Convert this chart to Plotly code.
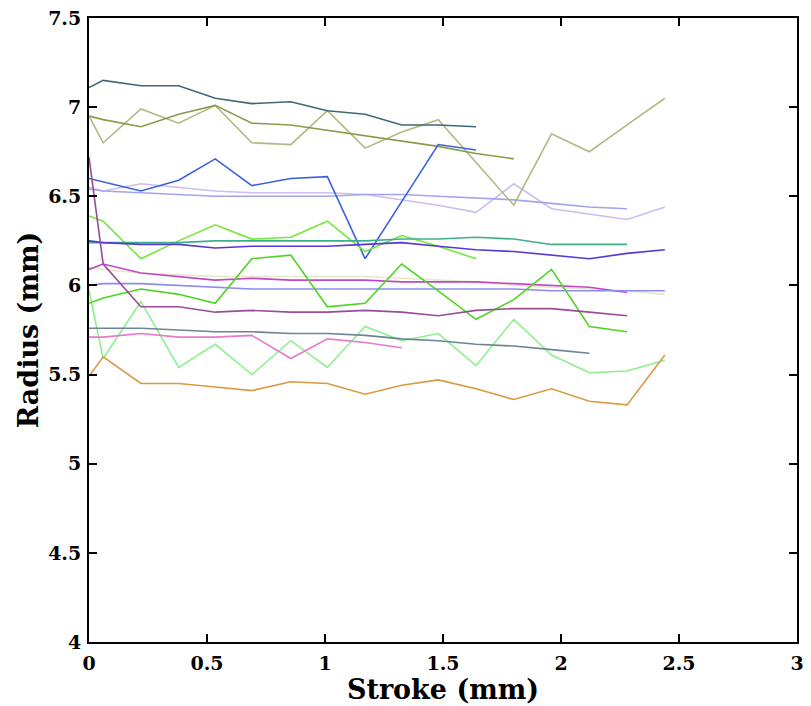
import plotly.graph_objects as go

# Stroke positions (mm) at which the radius was sampled
stroke = [0.0, 0.06, 0.22, 0.38, 0.535, 0.69, 0.855, 1.01, 1.17, 1.325,
          1.48, 1.64, 1.80, 1.96, 2.12, 2.28, 2.44]

# Radius profiles (mm), one list per specimen
r_slate_teal = [7.11, 7.15, 7.12, 7.12, 7.05, 7.02, 7.03, 6.98, 6.96, 6.90, 6.90, 6.89]
r_olive = [6.95, 6.93, 6.89, 6.96, 7.01, 6.91, 6.90, 6.87, 6.84, 6.81, 6.78, 6.74, 6.71]
r_khaki = [6.95, 6.80, 6.99, 6.91, 7.01, 6.80, 6.79, 6.98, 6.77, 6.86, 6.93, 6.69, 6.45,
           6.85, 6.75, 6.90, 7.05]
r_blue = [6.60, 6.58, 6.53, 6.59, 6.71, 6.56, 6.60, 6.61, 6.15, 6.47, 6.79, 6.76]
r_lavender = [6.55, 6.53, 6.57, 6.55, 6.53, 6.52, 6.52, 6.52, 6.51, 6.48, 6.45, 6.41, 6.57,
              6.43, 6.40, 6.37, 6.44]
r_periwinkle = [6.54, 6.53, 6.52, 6.51, 6.50, 6.50, 6.50, 6.50, 6.51, 6.51, 6.50, 6.49, 6.48,
                6.46, 6.44, 6.43]
r_lime = [6.39, 6.36, 6.15, 6.25, 6.34, 6.26, 6.27, 6.36, 6.19, 6.28, 6.22, 6.15]
r_teal = [6.24, 6.24, 6.24, 6.24, 6.25, 6.25, 6.25, 6.25, 6.25, 6.26, 6.26, 6.27, 6.26,
          6.23, 6.23, 6.23]
r_indigo = [6.25, 6.24, 6.23, 6.23, 6.21, 6.22, 6.22, 6.22, 6.23, 6.24, 6.22, 6.20, 6.19,
            6.17, 6.15, 6.18, 6.20]
r_magenta = [6.09, 6.12, 6.07, 6.05, 6.03, 6.04, 6.03, 6.03, 6.03, 6.02, 6.02, 6.02, 6.01,
             6.00, 5.99, 5.96]
r_beige = [6.10, 6.09, 6.07, 6.06, 6.05, 6.05, 6.05, 6.05, 6.05, 6.04, 6.03, 6.02, 6.00,
           5.99, 5.98, 5.97, 5.95]
r_light_blue = [6.00, 6.01, 6.01, 6.00, 5.99, 5.98, 5.98, 5.98, 5.98, 5.98, 5.98, 5.98, 5.98,
                5.97, 5.97, 5.97, 5.97]
r_green = [5.90, 5.93, 5.98, 5.95, 5.90, 6.15, 6.17, 5.88, 5.90, 6.12, 5.97, 5.81, 5.92,
           6.09, 5.77, 5.74]
r_plum = [6.72, 6.12, 5.88, 5.88, 5.85, 5.86, 5.85, 5.85, 5.86, 5.85, 5.83, 5.86, 5.87,
          5.87, 5.85, 5.83]
r_slate = [5.76, 5.76, 5.76, 5.75, 5.74, 5.74, 5.73, 5.73, 5.72, 5.70, 5.69, 5.67, 5.66,
           5.64, 5.62]
r_pink = [5.71, 5.71, 5.73, 5.71, 5.71, 5.72, 5.59, 5.70, 5.68, 5.65]
r_mint = [5.97, 5.59, 5.91, 5.54, 5.67, 5.50, 5.69, 5.54, 5.77, 5.69, 5.73, 5.55, 5.81,
          5.61, 5.51, 5.52, 5.58]
r_orange = [5.49, 5.60, 5.45, 5.45, 5.43, 5.41, 5.46, 5.45, 5.39, 5.44, 5.47, 5.42, 5.36,
            5.42, 5.35, 5.33, 5.61]

x_ticks = [0, 0.5, 1, 1.5, 2, 2.5, 3]
x_tick_text = ["0", "0.5", "1", "1.5", "2", "2.5", "3"]
y_ticks = [4, 4.5, 5, 5.5, 6, 6.5, 7, 7.5]
y_tick_text = ["4", "4.5", "5", "5.5", "6", "6.5", "7", "7.5"]

series = [
    (r_beige, "#e6e6cc"),
    (r_lavender, "#cdbdf0"),
    (r_periwinkle, "#a4a4ea"),
    (r_mint, "#8cf08c"),
    (r_khaki, "#b4b880"),
    (r_olive, "#8c9a4c"),
    (r_slate_teal, "#3c6878"),
    (r_blue, "#3a62dc"),
    (r_lime, "#72e83a"),
    (r_teal, "#3cae8e"),
    (r_indigo, "#5838d4"),
    (r_magenta, "#c048c4"),
    (r_light_blue, "#8c8cf0"),
    (r_green, "#4ed424"),
    (r_plum, "#9a4c9a"),
    (r_slate, "#6c8494"),
    (r_pink, "#e878c8"),
    (r_orange, "#d89a44"),
]

fig = go.Figure()
for values, color in series:
    fig.add_trace(go.Scatter(
        x=stroke[:len(values)], y=values, mode="lines",
        line=dict(color=color, width=1.6), showlegend=False,
        hoverinfo="skip",
    ))

serif = "DejaVu Serif"
tick_font = dict(family=serif, size=19, color="black", weight="bold")
title_font = dict(family=serif, size=27, color="black", weight="bold")
axis_common = dict(
    showgrid=False, zeroline=False, showline=True, linecolor="black",
    linewidth=2, mirror="ticks", ticks="inside", ticklen=8,
    tickwidth=1.5, tickcolor="black", tickfont=tick_font,
)

fig.update_layout(
    width=811, height=706,
    margin=dict(l=89, r=7, t=16, b=64),
    paper_bgcolor="white", plot_bgcolor="white",
    font=dict(family=serif, color="black"),
    xaxis=dict(
        range=[0, 3], tickvals=x_ticks, ticktext=x_tick_text,
        ticklabelstandoff=3,
        title=dict(text="Stroke (mm)", font=title_font, standoff=4),
        **axis_common,
    ),
    yaxis=dict(
        range=[4, 7.5], tickvals=y_ticks, ticktext=y_tick_text,
        ticklabelstandoff=2,
        title=dict(text="Radius (mm)", font=title_font, standoff=2),
        **axis_common,
    ),
)

fig.write_html("out.html")
